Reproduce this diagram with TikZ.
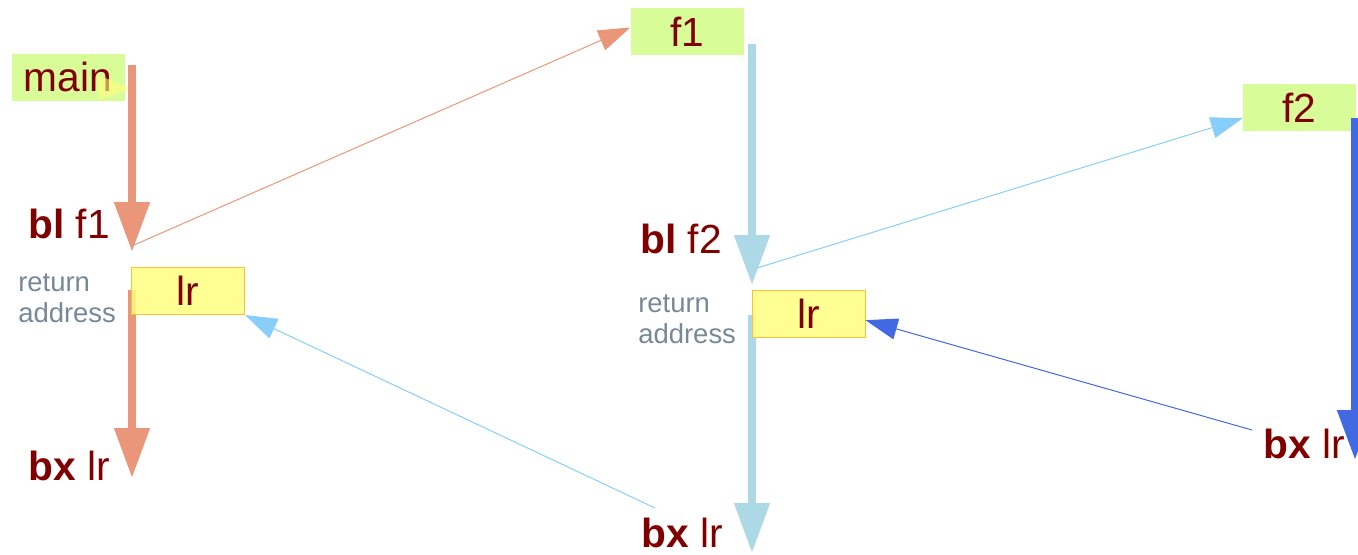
\documentclass[tikz,border=0pt]{standalone}
\usepackage{fontspec}
\setmainfont{Liberation Sans}
\usetikzlibrary{arrows.meta}
\definecolor{codered}{HTML}{800000}
\definecolor{fnbox}{HTML}{D7FC98}
\definecolor{regbox}{HTML}{FFFF80}
\definecolor{regedge}{HTML}{FFC033}
\definecolor{retgray}{HTML}{778899}
\definecolor{callA}{HTML}{E9967A}
\definecolor{callB}{HTML}{ADD8E6}
\definecolor{retA}{HTML}{87CEFA}
\definecolor{retB}{HTML}{4169E1}
\tikzstyle{func}=[fill=fnbox, text=codered, inner sep=0pt, minimum width=84.75pt, minimum height=35.25pt, font=\fontsize{30.5}{36}\selectfont]
\tikzstyle{reg}=[func, fill=regbox, fill opacity=0.85, text opacity=1, draw=regedge, line width=0.75pt]
\tikzstyle{instr}=[text=codered, inner sep=0pt, anchor=base west, font=\fontsize{30.5}{36}\selectfont]
\tikzstyle{note}=[text=retgray, inner sep=0pt, anchor=base west, align=left, font=\fontsize{20.6}{23.25}\selectfont]
\tikzstyle{flow}=[line width=6pt, -{Triangle[length=37.5pt, width=25.5pt]}]
\tikzstyle{jump}=[line width=0.75pt, -{Triangle[length=24pt, width=16pt]}]

\begin{document}
\begin{tikzpicture}[x=0.75pt, y=-0.75pt]
        \clip (0,0) rectangle (1358,554);
        \coordinate (mainout) at (132,65);
        \coordinate (callf1) at (132,252);
        \coordinate (backf1) at (132,290);
        \coordinate (endmain) at (132,478);
        \coordinate (f1out) at (752,44);
        \coordinate (callf2) at (752,285);
        \coordinate (backf2) at (752,315);
        \coordinate (endf1) at (752,553);
        \coordinate (f2out) at (1355,118);
        \coordinate (endf2) at (1355,460);
        \coordinate (jumpf1) at (134,245);
        \coordinate (jumpf2) at (757,268);
        \coordinate (retf1) at (655,508);
        \coordinate (retf2) at (1252,430);
        \node[func] (main) at (68,77) {main};
        \node[func] (f1) at (687,31.5) {f1};
        \node[func] (f2) at (1299.5,107.5) {f2};
        \fill[regbox, opacity=0.6] (98,75) -- (132,89) -- (98,100) -- cycle;
        \draw[flow, callA] (mainout) -- (callf1);
        \draw[flow, callA] (backf1) -- (endmain);
        \draw[flow, callB] (f1out) -- (callf2);
        \draw[flow, callB] (backf2) -- (endf1);
        \draw[flow, retB] (f2out) -- (endf2);
        \node[reg] (lr1) at (188,291) {lr};
        \node[reg] (lr2) at (808.5,313.5) {lr};
        \node[instr] (bl1) at (28,238) {\textbf{bl} f1};
        \node[instr] (bx1) at (28,480) {\textbf{bx} lr};
        \node[instr] (bl2) at (640,253) {\textbf{bl} f2};
        \node[instr] (bx2) at (641,547) {\textbf{bx} lr};
        \node[instr] (bx3) at (1263,458) {\textbf{bx} lr};
        \node[note] (ra1) at (18,322) {return\\address};
        \node[note] (ra2) at (638,343) {return\\address};
        \draw[jump, callA] (jumpf1) -- ([yshift=3pt]f1.west);
        \draw[jump, retA] (jumpf2) -- ([yshift=-8pt]f2.west);
        \draw[jump, retA] (retf1) -- (lr1.south east);
        \draw[jump, retB] (retf2) -- ([yshift=-5pt]lr2.east);
    \end{tikzpicture}
\end{document}
